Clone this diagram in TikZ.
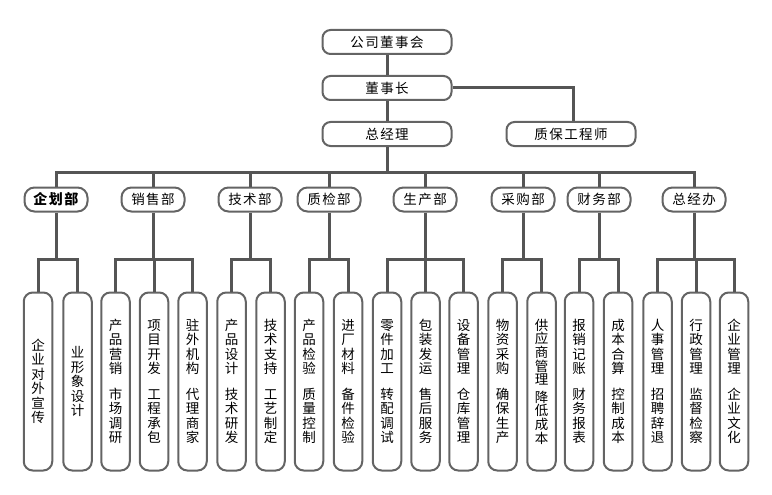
\documentclass[tikz,border=0pt]{standalone}
\usepackage{fontspec}
\newfontfamily\cjk{Noto Sans CJK SC}
\definecolor{linegray}{HTML}{555555}
\definecolor{boxgray}{HTML}{646464}
\newcommand\gapk{\hspace{1.5pt}}
\tikzset{
  conn/.style={draw=linegray, line width=3pt},
  basebox/.style={draw=boxgray, line width=2pt, fill=white, inner sep=0pt, text=black},
  topbox/.style={basebox, rounded corners=8pt, minimum width=129pt, minimum height=24pt,
    font=\cjk\fontsize{13.5}{15}\selectfont},
  deptbox/.style={basebox, rounded corners=10pt, minimum width=63pt, minimum height=24pt,
    font=\cjk\fontsize{13.5}{15}\selectfont},
  leafbox/.style={basebox, rounded corners=9pt, minimum width=28.5pt, minimum height=178pt,
    align=center, font=\cjk\fontsize{13.5}{14.5}\selectfont},
}
\begin{document}
\begin{tikzpicture}[x=1pt,y=-1pt]
\useasboundingbox (0,0) rectangle (772,495);
% top
\node[topbox] (ds)  at (387,42)  {公\gapk 司\gapk 董\gapk 事\gapk 会};
\node[topbox] (dsz) at (387,88)  {董\gapk 事\gapk 长};
\node[topbox] (zjl) at (387,134) {总\gapk 经\gapk 理};
\node[topbox] (zb)  at (571,134) {质\gapk 保\gapk 工\gapk 程\gapk 师};
% departments
\node[deptbox, font=\cjk\bfseries\fontsize{14}{15}\selectfont] (d1) at (56,199.5) {企\gapk 划\gapk 部};
\node[deptbox] (d2) at (153,199.5) {销\gapk 售\gapk 部};
\node[deptbox] (d3) at (250,199.5) {技\gapk 术\gapk 部};
\node[deptbox] (d4) at (329,199.5) {质\gapk 检\gapk 部};
\node[deptbox] (d5) at (425,199.5) {生\gapk 产\gapk 部};
\node[deptbox] (d6) at (523,199.5) {采\gapk 购\gapk 部};
\node[deptbox] (d7) at (599,199.5) {财\gapk 务\gapk 部};
\node[deptbox] (d8) at (694,199.5) {总\gapk 经\gapk 办};
% leaves
\node[leafbox] (l1)  at (38,381.5)  {企\\业\\对\\外\\宣\\传};
\node[leafbox] (l2)  at (77.5,381.5)  {业\\形\\象\\设\\计};
\node[leafbox] (l3)  at (115.5,381.5) {产\\品\\营\\销\\[11pt]市\\场\\调\\研};
\node[leafbox] (l4)  at (154,381.5) {项\\目\\开\\发\\[11pt]工\\程\\承\\包};
\node[leafbox] (l5)  at (192.5,381.5) {驻\\外\\机\\构\\[11pt]代\\理\\商\\家};
\node[leafbox] (l6)  at (231.5,381.5) {产\\品\\设\\计\\[11pt]技\\术\\研\\发};
\node[leafbox] (l7)  at (270.5,381.5) {技\\术\\支\\持\\[11pt]工\\艺\\制\\定};
\node[leafbox] (l8)  at (309,381.5) {产\\品\\检\\验\\[11pt]质\\量\\控\\制};
\node[leafbox] (l9)  at (348,381.5) {进\\厂\\材\\料\\[11pt]备\\件\\检\\验};
\node[leafbox] (l10) at (387,381.5) {零\\件\\加\\工\\[11pt]转\\配\\调\\试};
\node[leafbox] (l11) at (425.5,381.5) {包\\装\\发\\运\\[11pt]售\\后\\服\\务};
\node[leafbox] (l12) at (463.5,381.5) {设\\备\\管\\理\\[11pt]仓\\库\\管\\理};
\node[leafbox] (l13) at (502.5,381.5) {物\\资\\采\\购\\[11pt]确\\保\\生\\产};
\node[leafbox, font=\cjk\fontsize{13.5}{13.6}\selectfont] (l14) at (541.5,381.5) {供\\应\\商\\管\\理\\[4pt]降\\低\\成\\本};
\node[leafbox] (l15) at (579,381.5) {报\\销\\记\\账\\[11pt]财\\务\\报\\表};
\node[leafbox] (l16) at (618,381.5) {成\\本\\合\\算\\[11pt]控\\制\\成\\本};
\node[leafbox] (l17) at (657.5,381.5) {人\\事\\管\\理\\[11pt]招\\聘\\辞\\退};
\node[leafbox] (l18) at (696,381.5) {行\\政\\管\\理\\[11pt]监\\督\\检\\察};
\node[leafbox] (l19) at (734,381.5) {企\\业\\管\\理\\[11pt]企\\业\\文\\化};
% helper coordinates
\coordinate (bus) at (388,172);
\coordinate (by) at (0,259);
% top connectors
\draw[conn] (ds.south) -- (dsz.north);
\draw[conn] (dsz.south) -- (zjl.north);
\draw[conn] (dsz.east) -| ([xshift=2pt]zb.north);
\draw[conn] (zjl.south) -- (zjl.south |- bus);
\draw[conn] (d1.north) |- (bus) -| (d8.north);
\foreach \d in {d2,d3,d4,d5,d6,d7} \draw[conn] (\d.north) -- (\d.north |- bus);
% department brackets
\foreach \d/\a/\b in {d1/l1/l2, d2/l3/l5, d3/l6/l7, d4/l8/l9, d5/l10/l12, d6/l13/l14, d7/l15/l16, d8/l17/l19} {
  \draw[conn] (\d.south) -- (\d.south |- by);
  \draw[conn] (\a.north) |- (\b.north |- by) -- (\b.north);
}
\foreach \m in {l4,l11,l18} \draw[conn] (\m.north) -- (\m.north |- by);
\end{tikzpicture}
\end{document}
